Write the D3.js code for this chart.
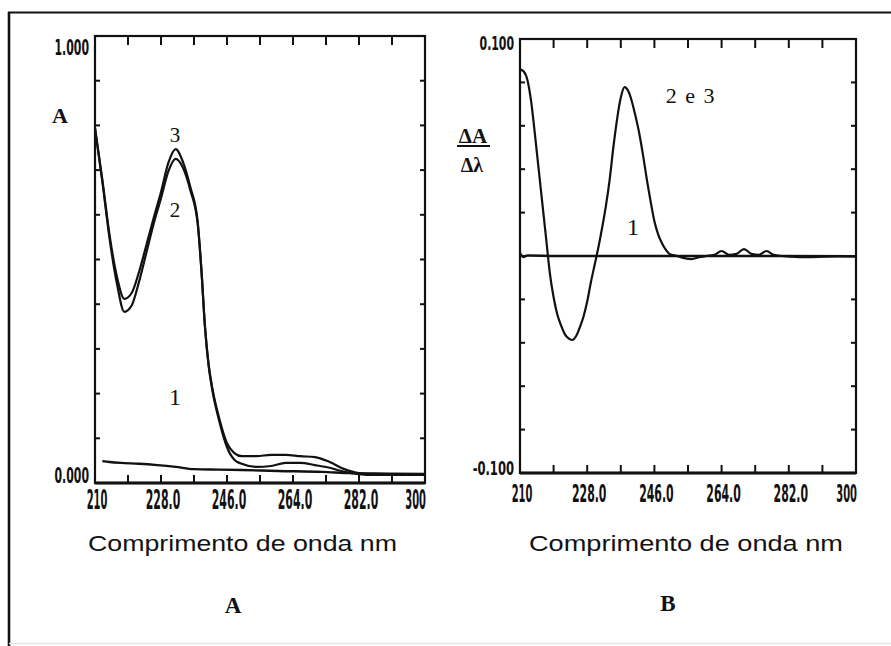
<!DOCTYPE html>
<html><head><meta charset="utf-8">
<script src="https://cdn.jsdelivr.net/npm/d3@7"></script>
<style>body{margin:0;background:#fff}</style>
</head><body>
<svg id="c" width="891" height="646"></svg>
<script>
// ---------- DATA ----------
// Panel A: absorbance spectra
const wlA = [210, 212, 214, 216, 218, 220, 222, 224, 226, 228, 230, 232, 234, 236, 238, 239, 240, 241, 242, 244, 246, 248, 250, 254, 258, 262, 266, 270, 274, 278, 282, 286, 290, 295, 300];
const absCurve3 = [0.794, 0.678, 0.553, 0.461, 0.412, 0.425, 0.472, 0.532, 0.593, 0.651, 0.716, 0.747, 0.718, 0.662, 0.585, 0.480, 0.350, 0.264, 0.212, 0.141, 0.089, 0.067, 0.060, 0.060, 0.063, 0.063, 0.060, 0.058, 0.047, 0.031, 0.022, 0.020, 0.020, 0.020, 0.020];
const absCurve2 = [0.794, 0.675, 0.545, 0.445, 0.383, 0.397, 0.450, 0.515, 0.580, 0.637, 0.697, 0.725, 0.705, 0.655, 0.580, 0.478, 0.348, 0.262, 0.208, 0.135, 0.080, 0.052, 0.043, 0.036, 0.038, 0.045, 0.045, 0.040, 0.034, 0.025, 0.020, 0.018, 0.018, 0.018, 0.018];
const wlA1 = [212, 214, 217, 222, 227, 232, 237, 244, 250, 260, 272, 280, 290, 300];
const absCurve1 = [0.049, 0.047, 0.045, 0.043, 0.040, 0.036, 0.031, 0.030, 0.029, 0.027, 0.025, 0.022, 0.021, 0.020];

// Panel B: first derivative spectra
const wlB = [210, 211, 212, 213, 214, 215, 216, 217, 218, 219, 220, 221, 222, 223, 224, 225, 226, 227, 228, 229, 230, 231, 232, 233, 234, 235, 236, 237, 238, 239, 240, 241, 242, 243, 244, 245, 246, 247, 248, 249, 250, 252, 254, 256, 258, 260, 262, 264, 266, 268, 270, 272, 274, 276, 278, 280, 285, 290, 295, 300];
const derivCurve23 = [0.086, 0.085, 0.081, 0.071, 0.056, 0.040, 0.024, 0.008, -0.008, -0.019, -0.027, -0.032, -0.036, -0.038, -0.0387, -0.037, -0.033, -0.028, -0.021, -0.012, -0.004, 0.004, 0.013, 0.023, 0.035, 0.050, 0.063, 0.073, 0.0778, 0.076, 0.071, 0.064, 0.056, 0.046, 0.035, 0.025, 0.016, 0.010, 0.006, 0.003, 0.001, 0.000, -0.001, -0.0014, -0.0005, 0, 0.0005, 0.0023, 0.0005, 0.001, 0.0032, 0.001, 0.0005, 0.0023, 0.0005, 0, -0.0005, -0.0004, 0, 0];
const wlB1 = [210, 211, 212, 220, 240, 260, 280, 300];
const derivCurve1 = [0.0012, -0.0004, 0.0002, 0, 0, 0, 0, -0.0002];

// Ticks and labels
const xTickValues = [210, 219, 228, 237, 246, 255, 264, 273, 282, 291, 300];
const xLabelValues = [210, 228, 246, 264, 282, 300];
const xLabelTexts = ["210", "228.0", "246.0", "264.0", "282.0", "300"];
const yTicksA = [0, 0.1, 0.2, 0.3, 0.4, 0.5, 0.6, 0.7, 0.8, 0.9, 1.0];
const yLabelValsA = [1.0, 0.0];
const yLabelTextsA = ["1.000", "0.000"];
const yTicksB = [-0.1, -0.08, -0.06, -0.04, -0.02, 0, 0.02, 0.04, 0.06, 0.08, 0.1];
const yLabelValsB = [0.1, -0.1];
const yLabelTextsB = ["0.100", "-0.100"];
const xTitle = "Comprimento de onda nm";

// ---------- DRAW ----------
const svg = d3.select("#c");
svg.append("rect").attr("width", 891).attr("height", 646).attr("fill", "#fff");

// outer frame
svg.append("line").attr("x1", 8).attr("x2", 891).attr("y1", 12.5).attr("y2", 12.5).attr("stroke", "#111").attr("stroke-width", 2.2);
svg.append("line").attr("x1", 9).attr("x2", 9).attr("y1", 12).attr("y2", 646).attr("stroke", "#111").attr("stroke-width", 2.6);
svg.append("line").attr("x1", 9).attr("x2", 891).attr("y1", 643.5).attr("y2", 643.5).attr("stroke", "#e4e4e4").attr("stroke-width", 1.5);

const narrow = "Liberation Sans Narrow, DejaVu Sans Condensed, sans-serif";

// squeeze a text horizontally so that it is `target` px wide, anchored at (px, py)
function squeezed(g, px, py, t, size, target, anchor) {
  const el = g.append("text").attr("text-anchor", anchor)
    .attr("font-family", narrow).attr("font-weight", "bold").attr("font-size", size)
    .attr("fill", "#111").text(t);
  const len = el.node().getComputedTextLength() || target;
  el.attr("transform", `translate(${px},${py}) scale(${(target / len).toFixed(3)},1)`);
  return el;
}

function panel(cfg) {
  const x = d3.scaleLinear().domain([210, 300]).range([cfg.left, cfg.right]);
  const y = d3.scaleLinear().domain(cfg.yDomain).range([cfg.bottom, cfg.top]);
  const g = svg.append("g");

  // frame
  g.append("rect").attr("x", cfg.left).attr("y", cfg.top)
    .attr("width", cfg.right - cfg.left).attr("height", cfg.bottom - cfg.top)
    .attr("fill", "none").attr("stroke", "#111").attr("stroke-width", 2.2);
  g.append("line").attr("x1", cfg.left).attr("x2", cfg.right).attr("y1", cfg.bottom).attr("y2", cfg.bottom)
    .attr("stroke", "#111").attr("stroke-width", 3.2);

  // inward ticks
  const inner = xTickValues.slice(1, -1);
  const innerY = cfg.yTicks.slice(1, -1);
  const tk = g.append("g").attr("stroke", "#111").attr("stroke-width", 2);
  tk.selectAll(".tt").data(inner).join("line").attr("class", "tt")
    .attr("x1", d => x(d)).attr("x2", d => x(d)).attr("y1", cfg.top).attr("y2", cfg.top + 9);
  tk.selectAll(".tb").data(inner).join("line").attr("class", "tb")
    .attr("x1", d => x(d)).attr("x2", d => x(d)).attr("y1", cfg.bottom).attr("y2", cfg.bottom - 8);
  tk.selectAll(".tl").data(innerY).join("line").attr("class", "tl")
    .attr("x1", cfg.left).attr("x2", cfg.left + 5).attr("y1", d => y(d)).attr("y2", d => y(d));
  tk.selectAll(".tr").data(innerY).join("line").attr("class", "tr")
    .attr("x1", cfg.right).attr("x2", cfg.right - 5).attr("y1", d => y(d)).attr("y2", d => y(d));

  // curves
  const line = d3.line().x(d => x(d[0])).y(d => y(d[1])).curve(d3.curveMonotoneX);
  cfg.series.forEach(s => {
    g.append("path").datum(s.x.map((v, i) => [v, s.y[i]]))
      .attr("d", line).attr("fill", "none").attr("stroke", "#111")
      .attr("stroke-width", s.w || 2).attr("stroke-linejoin", "round");
  });

  // x tick labels (condensed dot-matrix look)
  xLabelValues.forEach((v, i) => {
    const t = xLabelTexts[i];
    const last = i === xLabelValues.length - 1;
    squeezed(g, last ? x(v) + 1 : x(v) + 2, cfg.bottom + cfg.xLabelDy, t, cfg.xLabelSize,
      t.length * 6.9, last ? "end" : "middle");
  });
  // y labels
  cfg.yLabelVals.forEach((v, i) => {
    const t = cfg.yLabelTexts[i];
    squeezed(g, cfg.left - 6, y(v) + (i === 0 ? cfg.yTopDy : cfg.yBotDy), t, cfg.yLabelSize,
      t.length * 6.9, "end");
  });
  // x title
  g.append("text").attr("x", cfg.titleX).attr("y", 551)
    .attr("font-family", "Liberation Sans, Arial, sans-serif").attr("font-size", 22)
    .attr("textLength", cfg.titleW).attr("lengthAdjust", "spacingAndGlyphs")
    .attr("fill", "#111").text(xTitle);
  return { x, y, g };
}

panel({
  left: 95, right: 425, top: 36, bottom: 483, yDomain: [0, 1], yTicks: yTicksA,
  yLabelVals: yLabelValsA, yLabelTexts: yLabelTextsA, yTopDy: 19, yBotDy: 0, yLabelSize: 22,
  xLabelDy: 26, xLabelSize: 26, titleX: 88, titleW: 309,
  series: [
    { x: wlA, y: absCurve3, w: 2.2 },
    { x: wlA, y: absCurve2, w: 2.2 },
    { x: wlA1, y: absCurve1, w: 2.4 }
  ]
});
panel({
  left: 520, right: 856, top: 39, bottom: 473, yDomain: [-0.1, 0.1], yTicks: yTicksB,
  yLabelVals: yLabelValsB, yLabelTexts: yLabelTextsB, yTopDy: 11, yBotDy: 2, yLabelSize: 20,
  xLabelDy: 29, xLabelSize: 24, titleX: 529, titleW: 314,
  series: [
    { x: wlB, y: derivCurve23, w: 2.2 },
    { x: wlB1, y: derivCurve1, w: 2.6 }
  ]
});

// annotations
const serif = "Liberation Serif, Times New Roman, serif";
const ann = (x, y, t, size, weight, anchor) => svg.append("text").attr("x", x).attr("y", y)
  .attr("font-family", serif).attr("font-size", size).attr("font-weight", weight || "normal")
  .attr("text-anchor", anchor || "middle").attr("fill", "#111").text(t);

ann(60, 123, "A", 22, "bold");
ann(175, 142, "3", 21);
ann(175, 217, "2", 21);
ann(175, 405, "1", 24);
ann(691, 103, "2 e 3", 22).attr("letter-spacing", 1.5);
ann(633, 235, "1", 24);
ann(473, 143, "ΔA", 21, "bold");
svg.append("line").attr("x1", 457).attr("x2", 490).attr("y1", 146).attr("y2", 146).attr("stroke", "#111").attr("stroke-width", 2);
ann(472, 172, "Δλ", 20, "bold");
ann(233, 613, "A", 23, "bold");
ann(668, 611, "B", 23, "bold");
</script>
</body></html>
